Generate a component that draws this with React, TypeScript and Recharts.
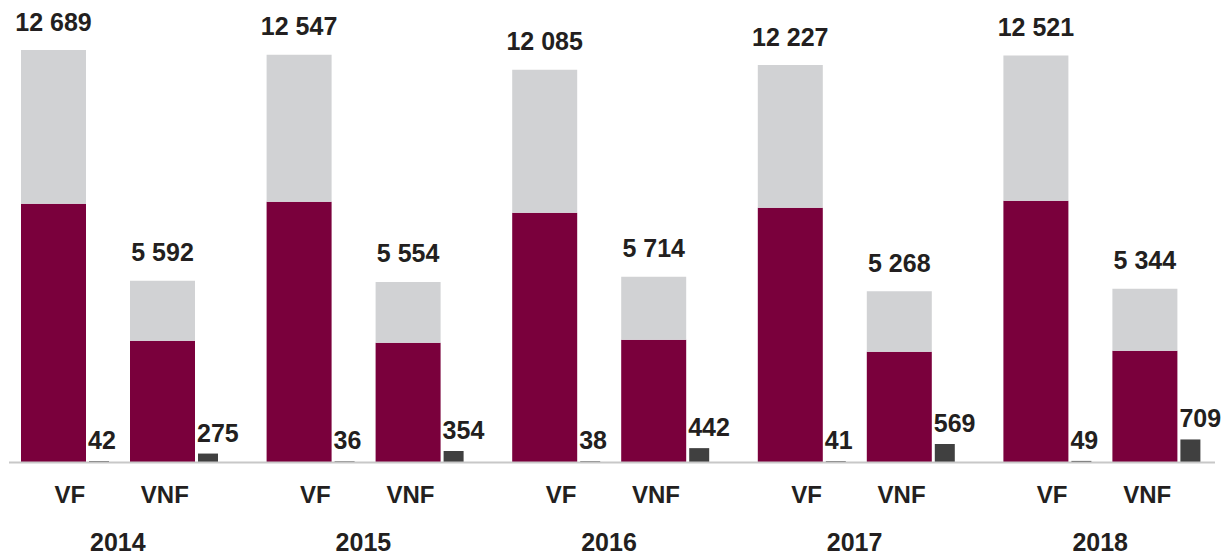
import { BarChart, Bar, XAxis, YAxis, LabelList } from "recharts";

const years = ["2014", "2015", "2016", "2017", "2018"];
const modes = ["VF", "VNF"];

// VF
const vfTotal = [12689, 12547, 12085, 12227, 12521];
const vfPart = [7960, 8020, 7680, 7835, 8050];
const vfOther = [42, 36, 38, 41, 49];

// VNF
const vnfTotal = [5592, 5554, 5714, 5268, 5344];
const vnfPart = [3745, 3680, 3775, 3405, 3435];
const vnfOther = [275, 354, 442, 569, 709];

const MAROON = "#7a003c";
const GREY = "#d1d2d4";
const DARK = "#404040";
const AXIS = "#c8c8c8";
const INK = "#231f20";
const FONT = '"Liberation Sans", Arial, sans-serif';

const data = years.map((year, i) => ({
  year,
  vfPart: vfPart[i],
  vfRest: vfTotal[i] - vfPart[i],
  vfTotal: vfTotal[i],
  vfOther: vfOther[i],
  vnfPart: vnfPart[i],
  vnfRest: vnfTotal[i] - vnfPart[i],
  vnfTotal: vnfTotal[i],
  vnfOther: vnfOther[i],
}));

const fmt = (v: number) => String(v).replace(/\B(?=(\d{3})+(?!\d))/g, " ");

function TotalLabel(props: any) {
  const x = Number(props.x);
  const y = Number(props.y);
  const w = Number(props.width);
  return (
    <text
      x={x + w / 2}
      y={y - 19.5}
      textAnchor="middle"
      fill={INK}
      fontSize={25}
      fontWeight={700}
      fontFamily={FONT}
    >
      {fmt(props.value)}
    </text>
  );
}

function SmallLabel(props: any) {
  const x = Number(props.x);
  const y = Number(props.y);
  return (
    <text
      x={x - 1}
      y={y - 12}
      textAnchor="start"
      fill={INK}
      fontSize={25}
      fontWeight={700}
      fontFamily={FONT}
    >
      {fmt(props.value)}
    </text>
  );
}

function YearTick({ x, y, payload }: any) {
  return (
    <g fontFamily={FONT} fontWeight={700} fill={INK}>
      <text x={x - 50} y={y + 40} textAnchor="middle" fontSize={24}>
        {modes[0]}
      </text>
      <text x={x + 45} y={y + 40} textAnchor="middle" fontSize={24}>
        {modes[1]}
      </text>
      <text x={x - 2} y={y + 88} textAnchor="middle" fontSize={25}>
        {payload.value}
      </text>
    </g>
  );
}

export default function App() {
  return (
    <div style={{ position: "absolute", left: -3, top: 0 }}>
      <BarChart
        width={1228}
        height={554}
        data={data}
        margin={{ top: 7.4, right: 0, bottom: 0, left: 0 }}
        barGap={3}
      >
        <XAxis
          dataKey="year"
          height={91.5}
          tickLine={false}
          tickSize={0}
          tickMargin={0}
          interval={0}
          axisLine={{ stroke: AXIS, strokeWidth: 2, strokeDasharray: "0 12 1206 100" }}
          tick={<YearTick />}
        />
        <YAxis hide domain={[0, 14000]} />
        <Bar dataKey="vfPart" stackId="vf" fill={MAROON} barSize={65} isAnimationActive={false} />
        <Bar dataKey="vfRest" stackId="vf" fill={GREY} barSize={65} isAnimationActive={false}>
          <LabelList dataKey="vfTotal" content={<TotalLabel />} />
        </Bar>
        <Bar dataKey="vfOther" stackId="vfo" fill={DARK} barSize={20} isAnimationActive={false}>
          <LabelList dataKey="vfOther" content={<SmallLabel />} />
        </Bar>
        {/* empty slot, widens the gap between the VF and VNF groups */}
        <Bar dataKey="gap" stackId="gap" fill="none" barSize={15} isAnimationActive={false} />
        <Bar dataKey="vnfPart" stackId="vnf" fill={MAROON} barSize={65} isAnimationActive={false} />
        <Bar dataKey="vnfRest" stackId="vnf" fill={GREY} barSize={65} isAnimationActive={false}>
          <LabelList dataKey="vnfTotal" content={<TotalLabel />} />
        </Bar>
        <Bar dataKey="vnfOther" stackId="vnfo" fill={DARK} barSize={20} isAnimationActive={false}>
          <LabelList dataKey="vnfOther" content={<SmallLabel />} />
        </Bar>
      </BarChart>
    </div>
  );
}
